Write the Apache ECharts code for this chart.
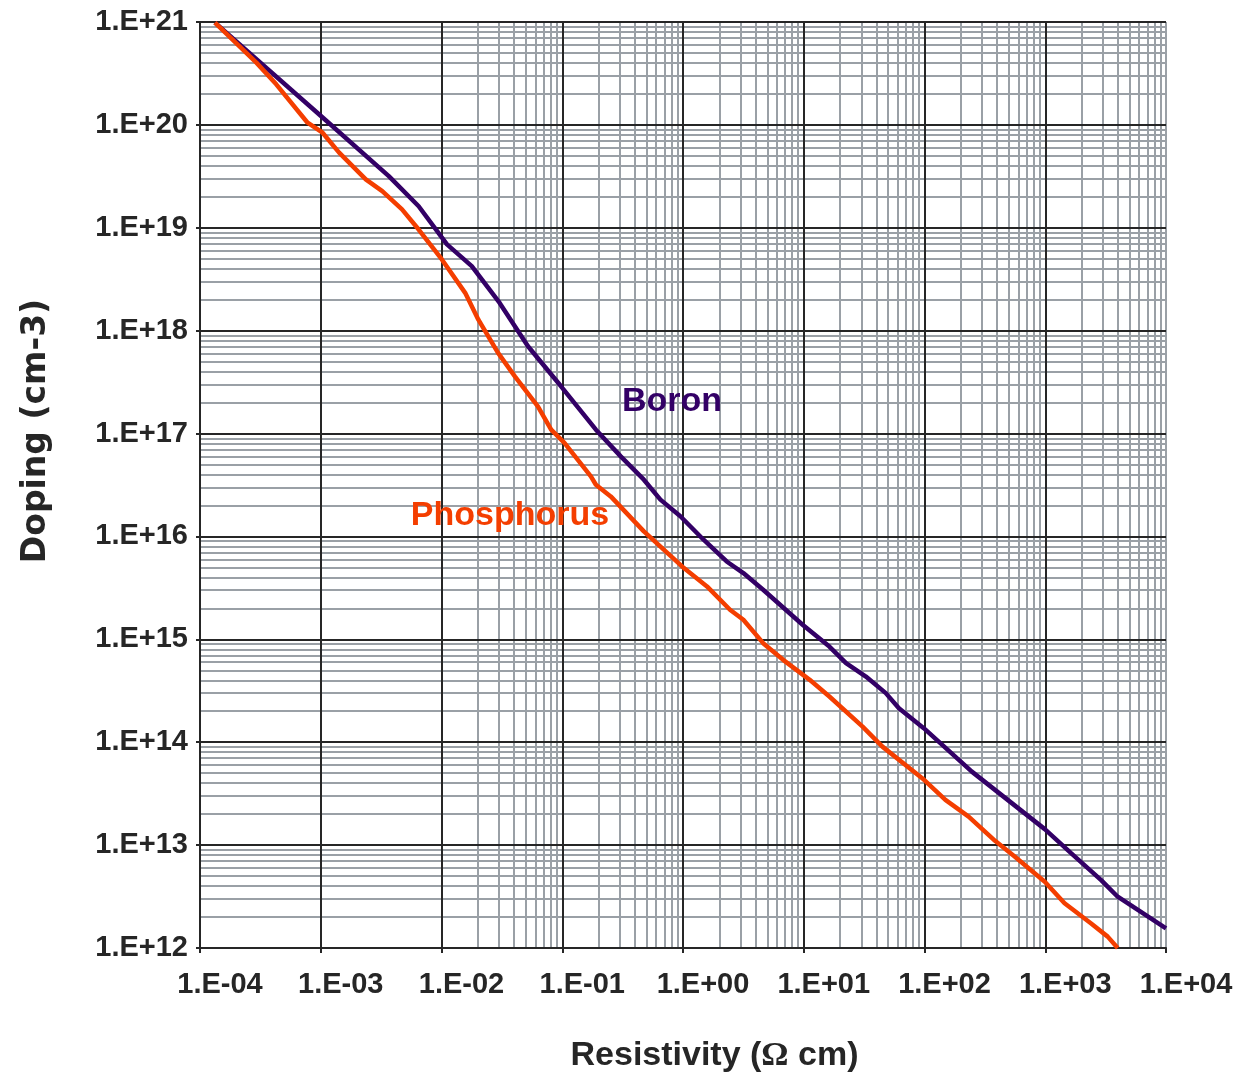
<!DOCTYPE html>
<html>
<head>
<meta charset="utf-8">
<script src="https://cdn.jsdelivr.net/npm/echarts@6/dist/echarts.min.js"></script>
<style>
  html, body { margin: 0; padding: 0; background: #fff; }
  #main { width: 1243px; height: 1073px; }
</style>
</head>
<body>
<div id="main"></div>
<script>
// resistivity (ohm cm) vs doping (cm-3)
const boronRes = [1.33e-4, 1.02e-3, 3.66e-3, 6.47e-3, 1.11e-2, 1.78e-2, 3.03e-2, 5.2e-2, 9.77e-2,
  0.19, 0.305, 0.474, 0.65, 0.951, 1.48, 2.3, 3.16, 4.61, 9.84, 16.3, 22.4, 32.7, 47.8, 61.4,
  98.6, 246.6, 991, 1644, 2904, 3981, 1e4];
const boronDoping = [9.86e20, 1.2e20, 3.18e19, 1.62e19, 6.89e18, 4.24e18, 1.86e18, 7.05e17, 2.88e17,
  1.09e17, 6.0e16, 3.56e16, 2.28e16, 1.57e16, 9.29e15, 5.71e15, 4.41e15, 3.03e15, 1.38e15, 8.51e14, 5.86e14, 4.35e14, 3.0e14, 2.14e14,
  1.37e14, 5.18e13, 1.43e13, 8.32e12, 4.57e12, 3.15e12, 1.55e12];

const phosRes = [1.33e-4, 2.93e-4, 4.28e-4, 7.78e-4, 1.035e-3, 1.42e-3, 2.36e-3, 3.23e-3, 4.71e-3, 6.47e-3,
  1.007e-2, 1.57e-2, 2.02e-2, 2.94e-2, 4.05e-2, 6.28e-2, 8.09e-2, 0.1042, 0.1726, 0.19, 0.252,
  0.474, 0.982, 1.58, 2.45, 3.16, 4.61, 6.75, 11.2, 16.3, 30.7, 44.8, 95.7, 149, 232, 384, 561,
  991, 1445, 2399, 3289, 3981];
const phosDoping = [9.86e20, 4.03e20, 2.48e20, 1.05e20, 8.39e19, 5.37e19, 2.95e19, 2.27e19, 1.51e19, 9.62e18,
  4.92e18, 2.33e18, 1.28e18, 6.08e17, 3.6e17, 1.84e17, 1.09e17, 8.11e16, 3.84e16, 3.18e16, 2.45e16,
  1.12e16, 5.11e15, 3.27e15, 1.94e15, 1.55e15, 9.18e14, 6.32e14, 4.04e14, 2.78e14, 1.42e14, 9.06e13, 4.47e13, 2.75e13, 1.89e13, 1.1e13, 7.71e12,
  4.41e12, 2.72e12, 1.73e12, 1.29e12, 1.0e12];

const xTickLabels = ['1.E-04', '1.E-03', '1.E-02', '1.E-01', '1.E+00', '1.E+01', '1.E+02', '1.E+03', '1.E+04'];
const yTickLabels = ['1.E+12', '1.E+13', '1.E+14', '1.E+15', '1.E+16', '1.E+17', '1.E+18', '1.E+19', '1.E+20', '1.E+21'];

// where the curve names sit, in data units
const boronTag = [0.81, 2.03e17];
const phosTag = [0.0369, 1.58e16];

const minorSteps = [2, 3, 4, 5, 6, 7, 8, 9];

const FONT = '"Liberation Sans", Arial, sans-serif';
const TXT = '#262626';
const MAJOR = '#262626';
const MINOR = '#9aa0a6';
const BORON = '#330066';
const PHOS = '#f43e00';

// log paper lines at 2..9 of each decade
const minorLines = [];
for (let e = -4; e < 4; e++) {
  minorSteps.forEach(m => minorLines.push({ xAxis: m * Math.pow(10, e) }));
}
minorLines.push({ xAxis: 1e4 });
for (let e = 12; e < 21; e++) {
  minorSteps.forEach(m => minorLines.push({ yAxis: m * Math.pow(10, e) }));
}

const chart = echarts.init(document.getElementById('main'));

chart.setOption({
  animation: false,
  backgroundColor: '#fff',
  grid: { left: 200, right: 77, top: 22, bottom: 125, containLabel: false, outerBoundsMode: 'none' },
  xAxis: {
    type: 'log',
    logBase: 10,
    min: 1e-4,
    max: 1e4,
    splitNumber: 8,
    z: 2,
    name: 'Resistivity ({o|Ω} cm)',
    nameLocation: 'middle',
    nameGap: 91,
    nameTextStyle: {
      fontFamily: FONT, fontWeight: 'bold', fontSize: 34, color: TXT,
      padding: [0, 0, 0, 63],
      rich: { o: { fontFamily: '"Liberation Serif", serif', fontSize: 34, color: TXT } }
    },
    axisLine: { show: true, lineStyle: { color: MAJOR, width: 2 } },
    axisTick: { show: true, length: 5, lineStyle: { color: MAJOR, width: 2 } },
    splitLine: { show: true, showMaxLine: false, lineStyle: { color: MAJOR, width: 2 } },
    minorTick: { show: false },
    axisLabel: {
      fontFamily: FONT, fontWeight: 'bold', fontSize: 29, color: TXT,
      margin: 22,
      padding: [0, 0, 0, 40],
      showMinLabel: true, showMaxLabel: true,
      formatter: v => xTickLabels[Math.round(Math.log10(v)) + 4]
    }
  },
  yAxis: {
    type: 'log',
    logBase: 10,
    min: 1e12,
    max: 1e21,
    splitNumber: 9,
    z: 2,
    name: 'Doping (cm-3)',
    nameLocation: 'middle',
    nameGap: 147,
    nameTextStyle: {
      fontFamily: '"DejaVu Sans", "Liberation Sans", sans-serif', fontWeight: 'bold', fontSize: 33, color: TXT,
      padding: [0, 0, 0, 108]
    },
    axisLine: { show: true, lineStyle: { color: MAJOR, width: 2 } },
    axisTick: { show: true, length: 4, lineStyle: { color: MAJOR, width: 2 } },
    splitLine: { show: true, lineStyle: { color: MAJOR, width: 2 } },
    axisLabel: {
      fontFamily: FONT, fontWeight: 'bold', fontSize: 29, color: TXT,
      margin: 12,
      showMinLabel: true, showMaxLabel: true,
      formatter: v => yTickLabels[Math.round(Math.log10(v)) - 12]
    }
  },
  series: [
    {
      name: 'grid',
      type: 'line',
      z: 1,
      data: [],
      silent: true,
      markLine: {
        z: 1,
        silent: true,
        symbol: ['none', 'none'],
        label: { show: false },
        emphasis: { disabled: true },
        lineStyle: { color: MINOR, width: 2, type: 'solid' },
        data: minorLines
      }
    },
    {
      name: 'Boron',
      type: 'line',
      z: 4,
      symbol: 'none',
      lineStyle: { color: BORON, width: 4.5 },
      itemStyle: { color: BORON },
      data: boronRes.map((x, i) => [x, boronDoping[i]]),
      markPoint: {
        z: 6,
        symbolSize: 0,
        silent: true,
        label: {
          show: true, position: 'inside', formatter: 'Boron',
          fontFamily: FONT, fontWeight: 'bold', fontSize: 34, color: BORON
        },
        data: [{ coord: boronTag }]
      }
    },
    {
      name: 'Phosphorus',
      type: 'line',
      z: 4,
      symbol: 'none',
      lineStyle: { color: PHOS, width: 4.5 },
      itemStyle: { color: PHOS },
      data: phosRes.map((x, i) => [x, phosDoping[i]]),
      markPoint: {
        z: 6,
        symbolSize: 0,
        silent: true,
        label: {
          show: true, position: 'inside', formatter: 'Phosphorus',
          fontFamily: FONT, fontWeight: 'bold', fontSize: 34, color: PHOS
        },
        data: [{ coord: phosTag }]
      }
    }
  ]
});
</script>
</body>
</html>
